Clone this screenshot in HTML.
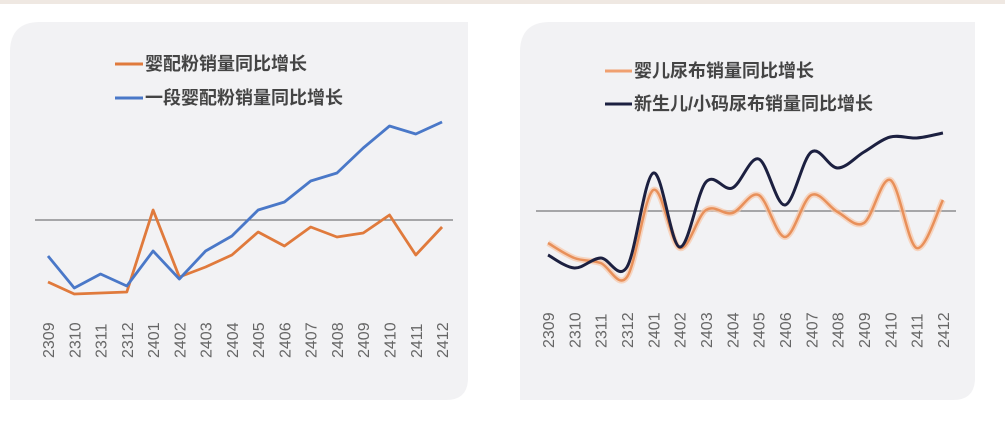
<!DOCTYPE html>
<html><head><meta charset="utf-8"><style>
body{margin:0;width:1005px;height:420px;background:#fff;overflow:hidden;font-family:"Liberation Sans","Noto Sans CJK SC",sans-serif}
</style></head><body>
<svg id="s" width="1005" height="420" xmlns="http://www.w3.org/2000/svg">
<rect x="0" y="0" width="1005" height="4" fill="#efe8e2"/>
<path d="M40 22 H468 V378 Q468 400 446 400 H10 V52 Q10 22 40 22Z" fill="#f2f2f4"/>
<path d="M550 22 H975 V378 Q975 400 953 400 H520 V52 Q520 22 550 22Z" fill="#f2f2f4"/>
<line x1="35" y1="220" x2="453" y2="220" stroke="#7a7a7a" stroke-width="1.3"/>
<line x1="536" y1="211" x2="956" y2="211" stroke="#7a7a7a" stroke-width="1.3"/>
<g font-size="18" font-weight="bold" fill="#444">
<line x1="115" y1="64" x2="143" y2="64" stroke="#e07a3c" stroke-width="3"/>
<text x="145" y="70">婴配粉销量同比增长</text>
<line x1="115" y1="98" x2="143" y2="98" stroke="#4a78c8" stroke-width="3"/>
<text x="145" y="104">一段婴配粉销量同比增长</text>
<line x1="605" y1="71" x2="632" y2="71" stroke="#f0a070" stroke-width="3"/>
<text x="634" y="77">婴儿尿布销量同比增长</text>
<line x1="605" y1="104" x2="632" y2="104" stroke="#1c2040" stroke-width="3"/>
<text x="634" y="110">新生儿/小码尿布销量同比增长</text>
</g>
<g id="lab" font-size="16" fill="#666"></g>
</svg>
<script>
var s=document.getElementById('s'),lab=document.getElementById('lab');
var L=['2309','2310','2311','2312','2401','2402','2403','2404','2405','2406','2407','2408','2409','2410','2411','2412'];
function xs(a,st){return L.map(function(_,i){return a+st*i});}
var xl=xs(48,26.27),xr=xs(548,26.33);
L.forEach(function(t,i){[[xl[i],358],[xr[i],348]].forEach(function(p){var e=document.createElementNS('http://www.w3.org/2000/svg','text');e.setAttribute('transform','translate('+(p[0]+6)+','+p[1]+') rotate(-90)');e.textContent=t;lab.appendChild(e);});});
function poly(x,y){return 'M'+x.map(function(v,i){return v+' '+y[i]}).join(' L');}
function smooth(x,y){var d='M'+x[0]+' '+y[0];for(var i=0;i<x.length-1;i++){var x0=x[i-1]!==undefined?x[i-1]:x[i],y0=y[i-1]!==undefined?y[i-1]:y[i],x3=x[i+2]!==undefined?x[i+2]:x[i+1],y3=y[i+2]!==undefined?y[i+2]:y[i+1];d+=' C'+(x[i]+(x[i+1]-x0)/6)+' '+(y[i]+(y[i+1]-y0)/6)+' '+(x[i+1]-(x3-x[i])/6)+' '+(y[i+1]-(y3-y[i])/6)+' '+x[i+1]+' '+y[i+1];}return d;}
function add(d,c,w,o){var p=document.createElementNS('http://www.w3.org/2000/svg','path');p.setAttribute('d',d);p.setAttribute('fill','none');p.setAttribute('stroke',c);p.setAttribute('stroke-width',w);p.setAttribute('stroke-linejoin','round');if(o)p.setAttribute('opacity',o);s.appendChild(p);}
add(poly(xl,[282,294,293,292,210,277,267,255,232,246,227,237,233,215,255,227]),'#e07a3c',2.8);
add(poly(xl,[256,288,274,286,251,279,251,236,210,202,181,173,148,126,134,122]),'#4a78c8',2.8);
var ro=[243,258,263,277,190,248,210,213,195,237,195,212,223,180,248,200];
add(smooth(xr,ro),'#f8c8a8',6,0.7);
add(smooth(xr,ro),'#e8905a',2.5);
add(smooth(xr,[255,268,258,267,173,247,182,188,159,205,152,168,152,137,138,133]),'#1c2040',3);
</script>
</body></html>
